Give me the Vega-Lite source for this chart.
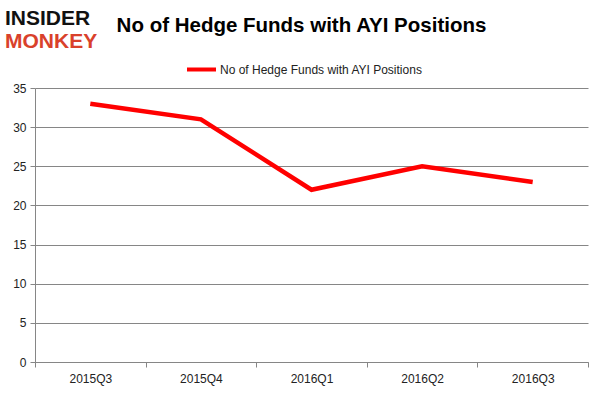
{
  "$schema": "https://vega.github.io/schema/vega-lite/v6.json",
  "width": 553,
  "height": 274,
  "autosize": {"type": "none"},
  "padding": {"left": 35, "top": 88, "right": 13, "bottom": 33},
  "background": "white",
  "title": {
    "text": "No of Hedge Funds with AYI Positions",
    "anchor": "middle",
    "frame": "group",
    "dx": -10,
    "offset": -28,
    "font": "Liberation Sans",
    "fontSize": 20.5,
    "fontWeight": "bold",
    "color": "#000000"
  },
  "config": {
    "view": {"stroke": null},
    "axis": {
      "labelFont": "Liberation Sans",
      "labelFontSize": 12,
      "labelColor": "#222222",
      "domainColor": "#868686",
      "tickColor": "#868686",
      "gridColor": "#868686",
      "gridOpacity": 1,
      "domainWidth": 1,
      "tickWidth": 1,
      "gridWidth": 1
    }
  },
  "layer": [
    {
      "data": {
        "values": [
          {"quarter": "2015Q3", "funds": 33, "series": "No of Hedge Funds with AYI Positions"},
          {"quarter": "2015Q4", "funds": 31, "series": "No of Hedge Funds with AYI Positions"},
          {"quarter": "2016Q1", "funds": 22, "series": "No of Hedge Funds with AYI Positions"},
          {"quarter": "2016Q2", "funds": 25, "series": "No of Hedge Funds with AYI Positions"},
          {"quarter": "2016Q3", "funds": 23, "series": "No of Hedge Funds with AYI Positions"}
        ]
      },
      "mark": {"type": "line", "strokeWidth": 4.5},
      "encoding": {
        "x": {
          "field": "quarter",
          "type": "nominal",
          "sort": null,
          "scale": {"type": "band", "paddingInner": 0, "paddingOuter": 0},
          "axis": {
            "title": null,
            "labelAngle": 0,
            "tickBand": "extent",
            "tickSize": 5,
            "labelPadding": 6,
            "grid": false
          }
        },
        "y": {
          "field": "funds",
          "type": "quantitative",
          "scale": {"domain": [0, 35], "nice": false},
          "axis": {
            "title": null,
            "values": [0, 5, 10, 15, 20, 25, 30, 35],
            "tickSize": 5,
            "labelPadding": 4,
            "grid": true
          }
        },
        "color": {
          "field": "series",
          "type": "nominal",
          "scale": {"range": ["#ff0000"]},
          "legend": {
            "title": null,
            "orient": "none",
            "legendX": 150,
            "legendY": -35,
            "symbolType": "stroke",
            "symbolSize": 841,
            "symbolStrokeWidth": 4,
            "labelFont": "Liberation Sans",
            "labelFontSize": 12,
            "labelLimit": 400,
            "labelColor": "#222222",
            "labelOffset": 2
          }
        }
      }
    },
    {
      "data": {"values": [{"word": "INSIDER"}]},
      "mark": {"type": "text", "font": "Liberation Sans", "fontSize": 21, "fontWeight": "bold", "color": "#111111", "align": "left", "baseline": "alphabetic"},
      "encoding": {"text": {"field": "word"}, "x": {"value": -30}, "y": {"value": -63}}
    },
    {
      "data": {"values": [{"word": "MONKEY"}]},
      "mark": {"type": "text", "font": "Liberation Sans", "fontSize": 21, "fontWeight": "bold", "color": "#d9412b", "align": "left", "baseline": "alphabetic"},
      "encoding": {"text": {"field": "word"}, "x": {"value": -30}, "y": {"value": -40}}
    }
  ]
}
